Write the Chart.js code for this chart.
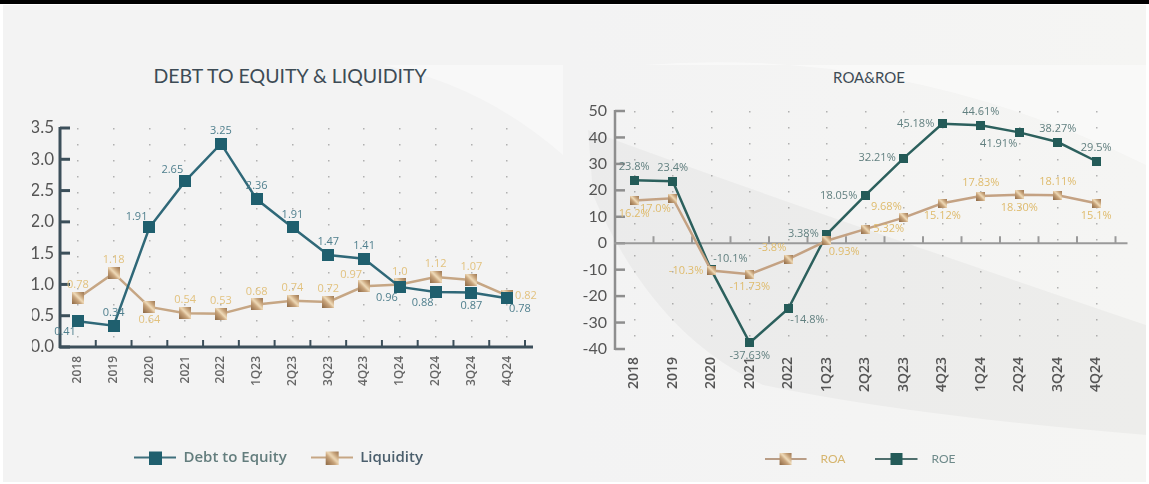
<!DOCTYPE html>
<html>
<head>
<meta charset="utf-8">
<script src="https://cdn.jsdelivr.net/npm/chart.js@4.4.0/dist/chart.umd.min.js"></script>
<style>
  html, body { margin: 0; padding: 0; background: #fff; overflow: hidden; }
  #frame { position: relative; width: 1149px; height: 484px; }
  #topbar { position: absolute; left: 0; top: 0; width: 1149px; height: 4px; background: #000; }
  #panel { position: absolute; left: 3px; top: 5px; width: 1143px; height: 477px; overflow: hidden;
           background: linear-gradient(90deg, #f3f3f3 0%, #f3f3f3 50%, #f5f5f3 100%); }
  .title { position: absolute; font-family: Lato, "Open Sans", sans-serif;
           color: #3d4b55; transform: translateX(-50%); white-space: nowrap; }
  canvas { position: absolute; }
</style>
</head>
<body>
<div id="frame">
  <div id="topbar"></div>
  <div id="panel">
    <svg width="1143" height="477" style="position:absolute;left:0;top:0">
      <path d="M 585 125 Q 760 190 1143 320 L 1143 430 Q 900 410 760 380 Q 650 330 590 190 Z" fill="rgba(0,0,0,0.03)"/>
      <path d="M 640 60 Q 900 40 1143 160 L 1143 60 Z" fill="rgba(255,255,255,0.45)"/>
      <path d="M 380 60 Q 480 80 560 150 L 560 60 Z" fill="rgba(255,255,255,0.4)"/>
    </svg>
  </div>
  <div class="title" style="left:290px;top:64px;font-size:19.5px">DEBT TO EQUITY &amp; LIQUIDITY</div>
  <div class="title" style="left:869px;top:68px;font-size:15px">ROA&amp;ROE</div>
  <div style="position:absolute;left:0;top:50px;width:565px;height:430px"><canvas id="leverageChart"></canvas></div>
  <div style="position:absolute;left:575px;top:50px;width:570px;height:430px"><canvas id="returnsChart"></canvas></div>
</div>
<script>
// ---- data ----
const periods = ['2018', '2019', '2020', '2021', '2022', '1Q23', '2Q23', '3Q23', '4Q23', '1Q24', '2Q24', '3Q24', '4Q24'];

const debtToEquity = [0.41, 0.34, 1.91, 2.65, 3.25, 2.36, 1.91, 1.47, 1.41, 0.96, 0.88, 0.87, 0.78];
const liquidity = [0.78, 1.18, 0.64, 0.54, 0.53, 0.68, 0.74, 0.72, 0.97, 1.0, 1.12, 1.07, 0.82];

const roa = [16.2, 17.0, -10.3, -11.73, -6.0, 0.93, 5.32, 9.68, 15.12, 17.83, 18.30, 18.11, 15.1];
const roaLabels = ['16.2%', '17.0%', '-10.3%', '-11.73%', '-3.8%', '0.93%', '5.32%', '9.68%', '15.12%', '17.83%', '18.30%', '18.11%', '15.1%'];
const roe = [23.8, 23.4, -10.1, -37.63, -24.8, 3.38, 18.05, 32.21, 45.18, 44.61, 41.91, 38.27, 31.0];
const roeLabels = ['23.8%', '23.4%', '-10.1%', '-37.63%', '-14.8%', '3.38%', '18.05%', '32.21%', '45.18%', '44.61%', '41.91%', '38.27%', '29.5%'];

// where each value label sits relative to its point
const debtLabelPos = ['bl', 't', 'tl', 'tl', 't', 't', 't', 't', 't', 'bl', 'bl', 'b', 'br'];
const liquidityLabelPos = ['t', 't', 'b', 't', 't', 't', 't', 't', 'tl', 't', 't', 't', 'r'];
const roaLabelPos = ['b', 'bl', 'l', 'b', 'tl', 'br', 'r', 'tl', 'b', 't', 'b', 't', 'b'];
const roeLabelPos = ['t', 't', 'tr', 'b', 'br', 'l', 'l', 'l', 'l', 't', 'bl', 't', 't'];

const fmtRatio = v => (Number.isInteger(v) ? v.toFixed(1) : String(v));

// ---- marker images ----
function goldFill(ctx, w, h) {
    const g = ctx.createLinearGradient(0, h, w, 0);
    g.addColorStop(0, '#8c6744');
    g.addColorStop(0.4, '#c9a57c');
    g.addColorStop(0.55, '#f0dcba');
    g.addColorStop(0.75, '#c8a47b');
    g.addColorStop(1, '#9a7552');
    return g;
}

function squareIcon(size, color) {
    const c = document.createElement('canvas');
    c.width = size; c.height = size;
    const ctx = c.getContext('2d');
    ctx.fillStyle = color === 'gold' ? goldFill(ctx, size, size) : color;
    ctx.fillRect(0, 0, size, size);
    return c;
}

// line + square legend swatch; 'tail' adds empty room before the label text
function legendIcon(lineColor, size, color, tail) {
    const c = document.createElement('canvas');
    c.width = 42 + tail; c.height = 14;
    const ctx = c.getContext('2d');
    ctx.strokeStyle = lineColor;
    ctx.lineWidth = 2;
    ctx.beginPath(); ctx.moveTo(0, 7); ctx.lineTo(42, 7); ctx.stroke();
    const s = squareIcon(size, color);
    ctx.drawImage(s, 21 - size / 2, 7 - size / 2);
    return c;
}

// ---- plugins ----
function labelOffset(pos, w) {
    switch (pos) {
        case 't': return [0, -13];
        case 'b': return [0, 13];
        case 'l': return [-(w / 2 + 8), 0];
        case 'r': return [w / 2 + 8, 0];
        case 'tl': return [-(w / 2 + 2), -11];
        case 'tr': return [w / 2 + 2, -11];
        case 'bl': return [-(w / 2 + 2), 11];
        case 'br': return [w / 2 + 2, 11];
    }
    return [0, -13];
}

const pointLabels = {
    id: 'pointLabels',
    afterDatasetsDraw(chart) {
        const ctx = chart.ctx;
        chart.data.datasets.forEach((ds, di) => {
            const meta = chart.getDatasetMeta(di);
            ctx.save();
            ctx.font = ds.labelFont;
            ctx.fillStyle = ds.labelColor;
            ctx.textAlign = 'center';
            ctx.textBaseline = 'middle';
            meta.data.forEach((pt, i) => {
                const text = ds.labelText[i];
                const [dx, dy] = labelOffset(ds.labelPos[i], ctx.measureText(text).width);
                ctx.fillText(text, pt.x + dx, pt.y + dy);
            });
            ctx.restore();
        });
    }
};

// axis lines with inward tick marks
const axisDecor = {
    id: 'axisDecor',
    beforeDatasetsDraw(chart, args, opts) {
        const { ctx, chartArea } = chart;
        const x = chart.scales.x, y = chart.scales.y;
        const base = opts.atZero ? y.getPixelForValue(0) : chartArea.bottom;
        const band = x.getPixelForValue(1) - x.getPixelForValue(0);
        ctx.save();
        ctx.lineCap = 'butt';
        // y axis
        ctx.strokeStyle = opts.yColor;
        ctx.lineWidth = opts.yWidth;
        ctx.beginPath();
        ctx.moveTo(chartArea.left, chartArea.top - 1);
        ctx.lineTo(chartArea.left, chartArea.bottom + 1);
        ctx.stroke();
        y.ticks.forEach(t => {
            const py = y.getPixelForValue(t.value);
            ctx.beginPath();
            ctx.moveTo(chartArea.left, py);
            ctx.lineTo(chartArea.left + 10, py);
            ctx.stroke();
        });
        // x axis
        ctx.strokeStyle = opts.xColor;
        ctx.lineWidth = opts.xWidth;
        ctx.beginPath();
        ctx.moveTo(chartArea.left - 1, base);
        ctx.lineTo(chartArea.right + opts.extend, base);
        ctx.stroke();
        ctx.lineWidth = 2;
        for (let i = 1; i <= periods.length; i++) {
            const px = x.getPixelForValue(i - 1) + band / 2;
            ctx.beginPath();
            ctx.moveTo(px, base);
            ctx.lineTo(px, base - 7);
            ctx.stroke();
        }
        ctx.restore();
    }
};

const legendLabels = chart => chart.data.datasets.map((ds, i) => ({
    text: ds.label,
    pointStyle: ds.legendIcon,
    fontColor: ds.legendColor,
    datasetIndex: i,
    lineWidth: 0,
    hidden: false
}));

const dotted = { display: true, color: 'rgba(110,110,110,0.5)', lineWidth: 1.5 };

// ---- debt to equity & liquidity ----
new Chart(document.getElementById('leverageChart'), {
    type: 'line',
    data: {
        labels: periods,
        datasets: [
            {
                label: 'Debt to Equity',
                data: debtToEquity,
                borderColor: '#2f6878',
                borderWidth: 2.5,
                pointStyle: squareIcon(12, '#1f5f6e'),
                labelText: debtToEquity.map(fmtRatio),
                labelPos: debtLabelPos,
                labelColor: '#4f7f8d',
                labelFont: '11px "Open Sans", sans-serif',
                legendIcon: legendIcon('#3e6f7c', 13, '#1f5f6e', 0),
                legendColor: '#637d7d'
            },
            {
                label: 'Liquidity',
                data: liquidity,
                borderColor: '#c6a684',
                borderWidth: 2.5,
                pointStyle: squareIcon(12, 'gold'),
                labelText: liquidity.map(fmtRatio),
                labelPos: liquidityLabelPos,
                labelColor: '#e2c27f',
                labelFont: '11px "Open Sans", sans-serif',
                legendIcon: legendIcon('#c6a684', 13, 'gold', 0),
                legendColor: '#4b5f6d'
            }
        ]
    },
    options: {
        responsive: true,
        maintainAspectRatio: false,
        animation: false,
        clip: false,
        layout: { padding: { left: 32, right: 40, top: 78, bottom: 5 } },
        plugins: {
            legend: {
                position: 'bottom',
                labels: {
                    usePointStyle: true,
                    pointStyleWidth: 42,
                    boxHeight: 14,
                    padding: 24,
                    font: { family: '"Open Sans", sans-serif', size: 15, weight: '600' },
                    generateLabels: legendLabels
                }
            },
            tooltip: { enabled: false },
            axisDecor: { yColor: '#3c4f5a', yWidth: 3, xColor: '#3c4f5a', xWidth: 3, extend: 8, atZero: false }
        },
        scales: {
            x: {
                offset: true,
                afterFit: s => { s.height = 79; },
                grid: { ...dotted, drawTicks: false },
                border: { display: false, dash: [1.5, 14.5] },
                ticks: {
                    padding: 9,
                    minRotation: 90,
                    maxRotation: 90,
                    color: '#666',
                    font: { family: '"Open Sans", sans-serif', size: 12, weight: '600' }
                }
            },
            y: {
                min: 0,
                max: 3.5,
                afterFit: s => { s.width = 28; },
                grid: { display: false, drawTicks: false },
                border: { display: false },
                ticks: {
                    stepSize: 0.5,
                    padding: 6,
                    color: '#555',
                    font: { family: 'Lato, sans-serif', size: 17 },
                    callback: v => v.toFixed(1)
                }
            }
        }
    },
    plugins: [axisDecor, pointLabels]
});

// ---- ROA & ROE ----
new Chart(document.getElementById('returnsChart'), {
    type: 'line',
    data: {
        labels: periods,
        datasets: [
            {
                label: 'ROA',
                data: roa,
                borderColor: '#c4a283',
                borderWidth: 2.5,
                pointStyle: squareIcon(9, 'gold'),
                labelText: roaLabels,
                labelPos: roaLabelPos,
                labelColor: '#dfbb6c',
                labelFont: '11px "Open Sans", sans-serif',
                legendIcon: legendIcon('#b99d86', 12, 'gold', 8),
                legendColor: '#d6b56e'
            },
            {
                label: 'ROE',
                data: roe,
                borderColor: '#2c605d',
                borderWidth: 2.5,
                pointStyle: squareIcon(9, '#245b58'),
                labelText: roeLabels,
                labelPos: roeLabelPos,
                labelColor: '#628080',
                labelFont: '11px "Open Sans", sans-serif',
                legendIcon: legendIcon('#4f6f6d', 12, '#245b58', 8),
                legendColor: '#6e8a8a'
            }
        ]
    },
    options: {
        responsive: true,
        maintainAspectRatio: false,
        animation: false,
        clip: false,
        layout: { padding: { left: 5, right: 5, top: 61, bottom: 5 } },
        plugins: {
            legend: {
                position: 'bottom',
                labels: {
                    usePointStyle: true,
                    pointStyleWidth: 50,
                    boxHeight: 14,
                    padding: 30,
                    font: { family: 'Lato, sans-serif', size: 12 },
                    generateLabels: legendLabels
                }
            },
            tooltip: { enabled: false },
            axisDecor: { yColor: '#8e8e8e', yWidth: 2.5, xColor: '#9a9a9a', xWidth: 2, extend: 12, atZero: true }
        },
        scales: {
            x: {
                offset: true,
                afterFit: s => { s.height = 74; },
                grid: { ...dotted, drawTicks: false },
                border: { display: false, dash: [1.5, 14.5] },
                ticks: {
                    padding: 8,
                    minRotation: 90,
                    maxRotation: 90,
                    color: '#555',
                    font: { family: '"Open Sans", sans-serif', size: 14, weight: '600' }
                }
            },
            y: {
                min: -40,
                max: 50,
                afterFit: s => { s.width = 35; },
                grid: { display: false, drawTicks: false },
                border: { display: false },
                ticks: {
                    stepSize: 10,
                    padding: 8,
                    color: '#555',
                    font: { family: 'Lato, sans-serif', size: 16 }
                }
            },
            // empty right-hand gutter so the legend centres where the original does
            gutter: {
                type: 'linear',
                position: 'right',
                afterFit: s => { s.width = 24.5; },
                grid: { display: false, drawTicks: false },
                border: { display: false },
                ticks: { display: false }
            }
        }
    },
    plugins: [axisDecor, pointLabels]
});
</script>
</body>
</html>
